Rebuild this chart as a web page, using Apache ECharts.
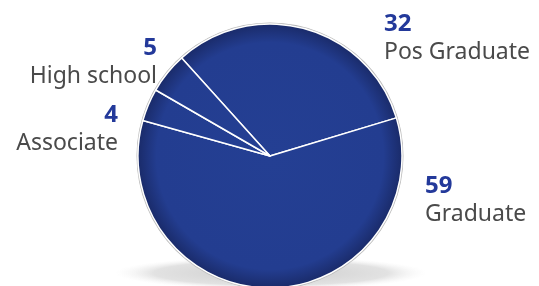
<!DOCTYPE html>
<html>
<head>
<meta charset="utf-8">
<script src="https://cdn.jsdelivr.net/npm/echarts@6/dist/echarts.min.js"></script>
<style>
    html, body { margin: 0; padding: 0; background: #fff; }
    #chart { width: 539px; height: 286px; }
</style>
</head>
<body>
<div id="chart"></div>
<script>
var categories = ['Pos Graduate', 'Graduate', 'Associate', 'High school'];
var values = [32, 59, 4, 5];

// where each label block sits (left/right edge, top)
var labelSpots = [
    { x: 384, y: 10, align: 'left' },
    { x: 425, y: 172, align: 'left' },
    { x: 118, y: 101, align: 'right' },
    { x: 157, y: 34, align: 'right' }
];

var chartDom = document.getElementById('chart');
var myChart = echarts.init(chartDom);

var fill = {
    type: 'radial', x: 270, y: 156, r: 132, global: true,
    colorStops: [
        { offset: 0, color: '#243f93' },
        { offset: 0.86, color: '#233d90' },
        { offset: 1, color: '#1a2b6a' }
    ]
};

var option = {
    animation: false,
    graphic: [
        {
            // floor shadow under the pie
            type: 'circle', z: -10,
            x: 271, y: 273, scaleY: 0.105,
            shape: { cx: 0, cy: 0, r: 156 },
            style: {
                fill: {
                    type: 'radial', x: 0.5, y: 0.5, r: 0.5,
                    colorStops: [
                        { offset: 0, color: '#cccccc' },
                        { offset: 0.75, color: '#e2e2e2' },
                        { offset: 1, color: 'rgba(245,245,245,0)' }
                    ]
                }
            }
        },
        {
            type: 'circle', z: -5,
            shape: { cx: 270, cy: 156, r: 133.5 },
            style: { fill: '#b9b9b9' }
        }
    ],
    series: [
        {
            type: 'pie',
            center: [270, 156],
            radius: 132,
            startAngle: 132,
            clockwise: true,
            itemStyle: { color: fill, borderColor: '#ffffff', borderWidth: 1.5 },
            emphasis: { disabled: true },
            label: {
                show: true,
                position: 'outside',
                overflow: 'none',
                formatter: function (p) {
                    return '{n|' + p.value + '}\n{t|' + p.name + '}';
                },
                rich: {
                    n: { fontFamily: 'Noto Sans', fontWeight: 'bold', fontSize: 24, color: '#23399a', lineHeight: 28 },
                    t: { fontFamily: 'Noto Sans', fontSize: 23, color: '#4a4a4a', lineHeight: 28 }
                }
            },
            labelLine: { show: false },
            labelLayout: function (params) {
                var s = labelSpots[params.dataIndex];
                return { x: s.x, y: s.y, align: s.align, verticalAlign: 'top' };
            },
            data: categories.map(function (c, i) {
                return {
                    name: c,
                    value: values[i],
                    label: { align: labelSpots[i].align }
                };
            })
        }
    ]
};

myChart.setOption(option);
</script>
</body>
</html>
